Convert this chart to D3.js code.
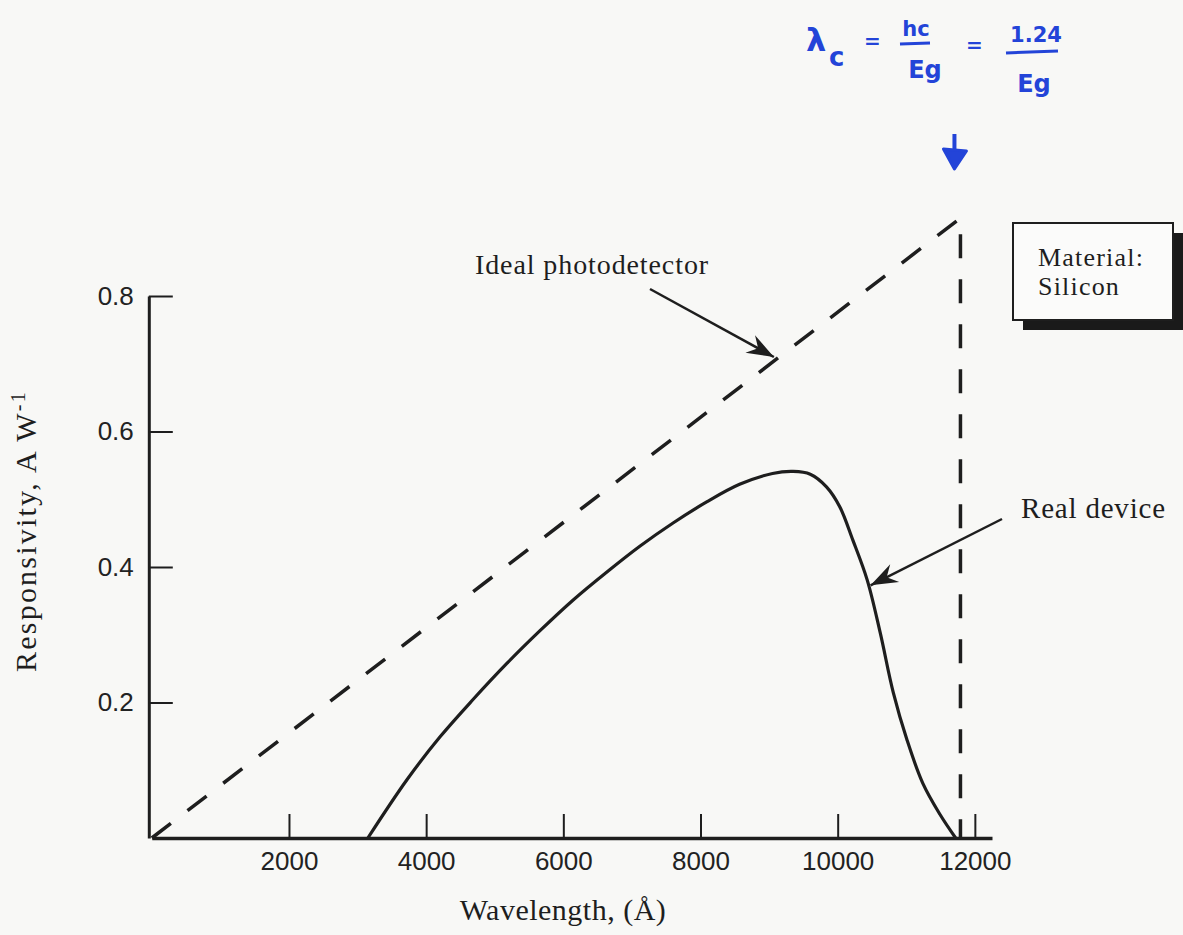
<!DOCTYPE html>
<html>
<head>
<meta charset="utf-8">
<script src="https://cdn.jsdelivr.net/npm/d3@7"></script>
<style>
  body { margin: 0; background: #f8f8f6; }
  svg { display: block; }
  .tick text { font-family: "Liberation Sans", Arial, sans-serif; font-size: 26px; fill: #222; }
  .serif { font-family: "Liberation Serif", "Times New Roman", serif; fill: #1e1e1e; }
  .hand { font-family: "DejaVu Sans", sans-serif; font-weight: bold; fill: #2344d8; }
</style>
</head>
<body>
<script>
// wavelength in Angstrom, responsivity in A/W
const xTicks = [2000, 4000, 6000, 8000, 10000, 12000];
const yTicks = [0.2, 0.4, 0.6, 0.8];

// ideal photodetector: rises linearly up to the cutoff wavelength, then drops
const idealWave = [0, 11790, 11790];
const idealResp = [0, 0.915, 0];

// real silicon device
const realWave = [3150, 3720, 4200, 4680, 5180, 5660, 6140, 6640, 7120, 7600, 8090, 8570, 9050, 9350, 9600, 9840, 10030, 10220, 10430, 10620, 10810, 11010, 11240, 11490, 11720];
const realResp = [0, 0.086, 0.149, 0.204, 0.258, 0.306, 0.351, 0.393, 0.431, 0.465, 0.496, 0.522, 0.538, 0.541, 0.537, 0.518, 0.489, 0.44, 0.381, 0.303, 0.215, 0.145, 0.081, 0.035, 0];

const w = 1183;
const h = 935;

const svg = d3.select("body").append("svg").attr("width", w).attr("height", h);

const x = d3.scaleLinear().domain([0, 12250]).range([151.8, 992]);
const y = d3.scaleLinear().domain([0, 0.8]).range([838, 296]);

const ink = "#1e1e1e";

// axes
const xAxis = svg.append("g")
  .attr("transform", `translate(0,${y(0)})`)
  .call(d3.axisBottom(x).tickValues(xTicks).tickSize(-24).tickSizeOuter(0).tickPadding(10)
    .tickFormat(d3.format("d")));
xAxis.select(".domain").attr("stroke", ink).attr("stroke-width", 3.5);
xAxis.selectAll(".tick line").attr("stroke", ink).attr("stroke-width", 2);
xAxis.selectAll(".tick text").attr("dy", "0.85em");

const yAxis = svg.append("g")
  .attr("transform", `translate(${x(0) - 3},0)`)
  .call(d3.axisLeft(y).tickValues(yTicks).tickSize(-24).tickSizeOuter(0).tickPadding(15)
    .tickFormat(d3.format(".1f")));
yAxis.select(".domain").attr("stroke", ink).attr("stroke-width", 3);
yAxis.selectAll(".tick line").attr("stroke", ink).attr("stroke-width", 2);

// lines
const ideal = idealWave.map((d, i) => [d, idealResp[i]]);
const real = realWave.map((d, i) => [d, realResp[i]]);

svg.append("path")
  .datum(ideal)
  .attr("d", d3.line().x(d => x(d[0])).y(d => y(d[1])))
  .attr("fill", "none")
  .attr("stroke", ink)
  .attr("stroke-width", 3.5)
  .attr("stroke-dasharray", "24,21");

svg.append("path")
  .datum(real)
  .attr("d", d3.line().x(d => x(d[0])).y(d => y(d[1])).curve(d3.curveCatmullRom.alpha(0.5)))
  .attr("fill", "none")
  .attr("stroke", ink)
  .attr("stroke-width", 3.2);

// arrow marker
svg.append("defs").append("marker")
  .attr("id", "barb")
  .attr("viewBox", "-28 -12 30 24")
  .attr("markerWidth", 30)
  .attr("markerHeight", 24)
  .attr("markerUnits", "userSpaceOnUse")
  .attr("refX", 0)
  .attr("refY", 0)
  .attr("orient", "auto")
  .append("path")
  .attr("d", "M0,0 L-27,-10 L-18,0 L-27,10 Z")
  .attr("fill", ink);

// annotations
svg.append("text").attr("class", "serif")
  .attr("x", 475).attr("y", 274).attr("font-size", 28).attr("letter-spacing", 0.9)
  .text("Ideal photodetector");
svg.append("line")
  .attr("x1", 650).attr("y1", 289)
  .attr("x2", x(9070)).attr("y2", y(0.71))
  .attr("stroke", ink).attr("stroke-width", 2.5)
  .attr("marker-end", "url(#barb)");

svg.append("text").attr("class", "serif")
  .attr("x", 1021).attr("y", 518).attr("font-size", 29).attr("letter-spacing", 0.8)
  .text("Real device");
svg.append("line")
  .attr("x1", 1002).attr("y1", 519)
  .attr("x2", x(10480)).attr("y2", y(0.373))
  .attr("stroke", ink).attr("stroke-width", 2.5)
  .attr("marker-end", "url(#barb)");

// material box with drop shadow
svg.append("rect").attr("x", 1023).attr("y", 233).attr("width", 160).attr("height", 97).attr("fill", "#1a1a1a");
svg.append("rect").attr("x", 1013).attr("y", 223).attr("width", 160).attr("height", 97)
  .attr("fill", "#fbfbfa").attr("stroke", ink).attr("stroke-width", 2);
svg.append("text").attr("class", "serif").attr("x", 1038).attr("y", 266).attr("font-size", 26).attr("letter-spacing", 1.2).text("Material:");
svg.append("text").attr("class", "serif").attr("x", 1038).attr("y", 295).attr("font-size", 26).attr("letter-spacing", 1.2).text("Silicon");

// axis titles
svg.append("text").attr("class", "serif")
  .attr("x", 563).attr("y", 920).attr("text-anchor", "middle").attr("font-size", 30).attr("letter-spacing", 0.5)
  .text("Wavelength, (Å)");

const yt = svg.append("text").attr("class", "serif")
  .attr("transform", "translate(36,531) rotate(-90)")
  .attr("text-anchor", "middle").attr("font-size", 30).attr("letter-spacing", 2.2);
yt.append("tspan").text("Responsivity, A W");
yt.append("tspan").attr("baseline-shift", "super").attr("font-size", 20).text("-1");

// handwritten cutoff note
const blue = "#2344d8";
const hand = svg.append("g").attr("class", "hand");
hand.append("text").attr("x", 806).attr("y", 51).attr("font-size", 32).text("λ");
hand.append("text").attr("x", 829).attr("y", 66).attr("font-size", 26).text("c");
hand.append("text").attr("x", 864).attr("y", 48).attr("font-size", 20).text("=");
hand.append("text").attr("x", 916).attr("y", 36).attr("font-size", 21).attr("text-anchor", "middle").text("hc");
hand.append("line").attr("x1", 900).attr("x2", 930).attr("y1", 44).attr("y2", 43).attr("stroke", blue).attr("stroke-width", 3);
hand.append("text").attr("x", 925).attr("y", 78).attr("font-size", 24).attr("text-anchor", "middle").text("Eg");
hand.append("text").attr("x", 966).attr("y", 52).attr("font-size", 20).text("=");
hand.append("text").attr("x", 1036).attr("y", 42).attr("font-size", 21).attr("text-anchor", "middle").text("1.24");
hand.append("line").attr("x1", 1006).attr("x2", 1058).attr("y1", 53).attr("y2", 51).attr("stroke", blue).attr("stroke-width", 3);
hand.append("text").attr("x", 1034).attr("y", 92).attr("font-size", 24).attr("text-anchor", "middle").text("Eg");

// hand-drawn arrow pointing to the cutoff
const ax = x(11790) - 6;
hand.append("line").attr("x1", ax).attr("x2", ax).attr("y1", 134).attr("y2", 158)
  .attr("stroke", blue).attr("stroke-width", 4);
hand.append("path")
  .attr("d", `M${ax - 11},149 L${ax + 12},151 L${ax},169 Z`)
  .attr("fill", blue).attr("stroke", blue).attr("stroke-width", 3).attr("stroke-linejoin", "round");
</script>
</body>
</html>
